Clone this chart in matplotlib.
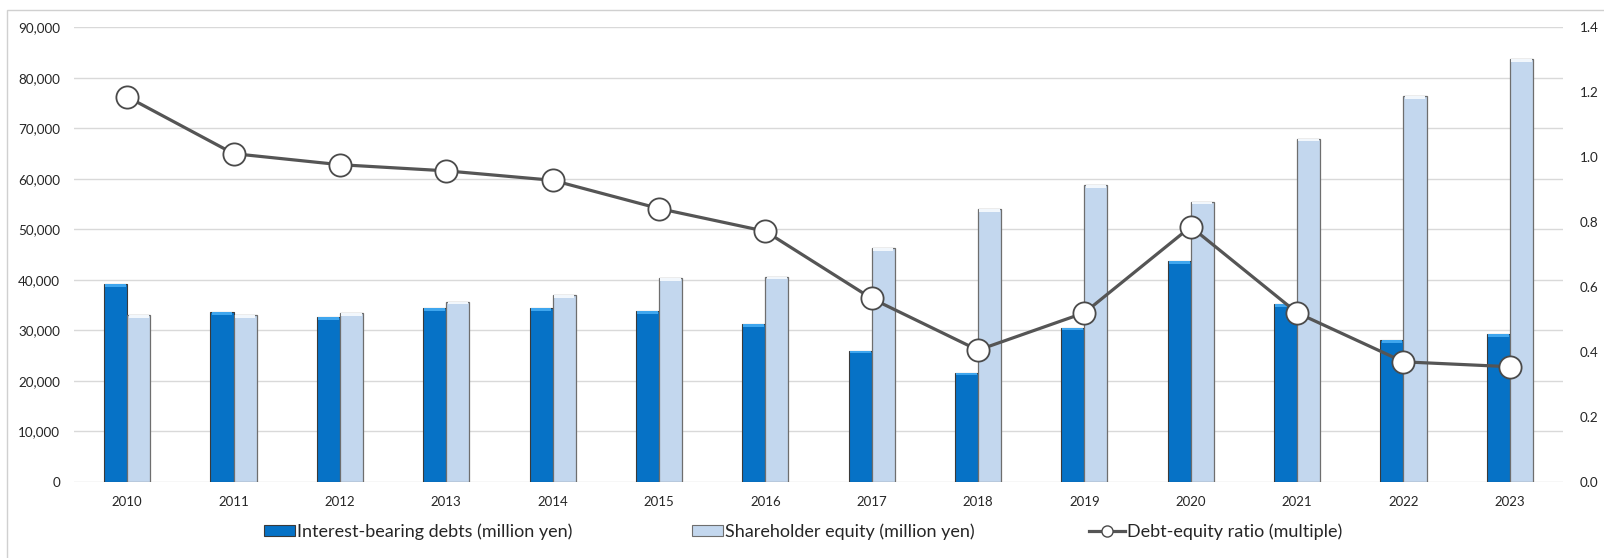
import matplotlib
matplotlib.use("Agg")
import matplotlib.pyplot as plt
from matplotlib.lines import Line2D
from matplotlib.patches import Patch, Rectangle
import numpy as np

plt.rcParams['font.family'] = ['Lato', 'DejaVu Sans']

years = ['2010', '2011', '2012', '2013', '2014', '2015', '2016',
         '2017', '2018', '2019', '2020', '2021', '2022', '2023']
debts = [39200, 33600, 32700, 34400, 34400, 33900, 31200,
         26000, 21650, 30560, 43760, 35190, 28120, 29300]
equity = [33000, 33000, 33400, 35700, 37000, 40300, 40650,
          46280, 54000, 58800, 55500, 67980, 76440, 83700]
de_ratio = [1.186, 1.011, 0.977, 0.958, 0.929, 0.842, 0.772,
            0.565, 0.406, 0.521, 0.786, 0.521, 0.370, 0.355]

label_debt = 'Interest-bearing debts (million yen)'
label_eq = 'Shareholder equity (million yen)'
label_ratio = 'Debt-equity ratio (multiple)'

blue = '#0672C6'
blue_cap = '#3FA6EE'
light = '#C3D7EE'
light_cap = '#F2F7FC'
line_c = '#555555'
grid_c = '#D9D9D9'
txt = '#262626'

fig = plt.figure(figsize=(16.04, 5.58), dpi=100)
W, H = 1604, 558
ax = fig.add_axes([74 / W, 1 - 482 / H, (1563 - 74) / W, (482 - 27.3) / H])
ax2 = ax.twinx()

x = np.arange(len(years))
bw = 0.217
cap = 550  # thin highlight band at the top of each bar (styling only)
d = np.array(debts, dtype=float)
e = np.array(equity, dtype=float)
ax.bar(x - bw / 2, d, width=bw, color=blue, edgecolor='#3A3A3A', linewidth=0.8, zorder=3)
ax.bar(x - bw / 2, cap, bottom=d - cap, width=bw * 0.9, color=blue_cap, linewidth=0, zorder=4)
ax.bar(x + bw / 2, e, width=bw, color=light, edgecolor='#6E6E6E', linewidth=0.9, zorder=3)
ax.bar(x + bw / 2, cap, bottom=e - cap, width=bw * 0.88, color=light_cap, linewidth=0, zorder=4)

ax.set_xlim(-0.5, len(years) - 0.5)
ax.set_ylim(0, 90000)
ax.set_yticks(np.arange(0, 90001, 10000))
ax.set_yticklabels([f'{v:,}' for v in range(0, 90001, 10000)])
ax.set_xticks(x)
ax.set_xticklabels(years)
ax.yaxis.grid(True, color=grid_c, linewidth=1.0, zorder=0)
ax.set_axisbelow(True)
for s in ax.spines.values():
    s.set_visible(False)
ax.tick_params(axis='y', length=0, pad=10, labelsize=9.7, labelcolor=txt)
ax.tick_params(axis='x', length=0, pad=10, labelsize=9.5, labelcolor=txt)

ax2.plot(x, de_ratio, color=line_c, linewidth=2.3, marker='o', markersize=16,
         markerfacecolor='white', markeredgecolor='#4A4A4A', markeredgewidth=1.3, zorder=5)
ax2.set_ylim(0, 1.4)
ax2.set_yticks(np.arange(0, 1.41, 0.2))
ax2.set_yticklabels([f'{v:.1f}' for v in np.arange(0, 1.41, 0.2)])
for s in ax2.spines.values():
    s.set_visible(False)
ax2.tick_params(axis='y', length=0, pad=12, labelsize=9.7, labelcolor=txt)

# outer frame
fig.patches.append(Rectangle((7 / W, -0.1), 1.2, 1 - 10 / H + 0.1, transform=fig.transFigure,
                             fill=False, edgecolor='#D0D0D0', linewidth=1.0))

ly = 1 - 532 / H
common = dict(frameon=False, fontsize=13, handlelength=1.7, handleheight=0.55,
              handletextpad=0.12, borderpad=0, borderaxespad=0, labelcolor=txt)
h1 = Patch(facecolor=blue, edgecolor='#3A3A3A', linewidth=0.8)
h2 = Patch(facecolor=light, edgecolor='#6E6E6E', linewidth=0.8)
h3 = Line2D([0], [0], color=line_c, linewidth=2.3, marker='o', markersize=8,
            markerfacecolor='white', markeredgecolor='#4A4A4A', markeredgewidth=1.0)
fig.legend([h1], [label_debt], loc='center left', bbox_to_anchor=(264 / W, ly), **common)
fig.legend([h2], [label_eq], loc='center left', bbox_to_anchor=(692 / W, ly), **common)
common3 = dict(common)
common3['handlelength'] = 2.0
fig.legend([h3], [label_ratio], loc='center left', bbox_to_anchor=(1089 / W, ly), **common3)

fig.savefig('out.png', dpi=100)
